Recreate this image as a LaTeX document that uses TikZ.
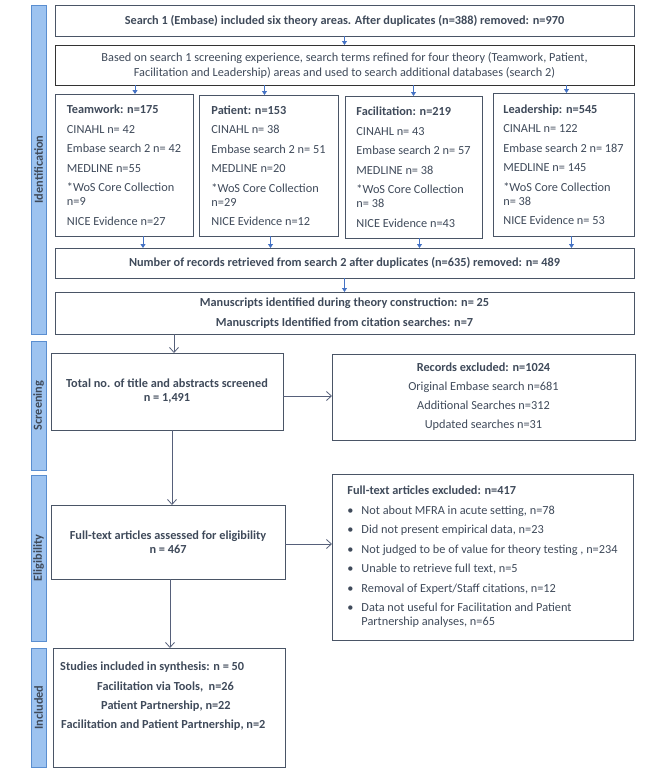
\documentclass[tikz,border=0pt]{standalone}
\usepackage{fontspec}
\setmainfont{Carlito}
\usetikzlibrary{arrows.meta}

\definecolor{boxline}{HTML}{4A5566}
\definecolor{darkline}{HTML}{333333}
\definecolor{barfill}{HTML}{9DC3F0}
\definecolor{barline}{HTML}{5A8ED0}
\definecolor{arrowblue}{HTML}{4472C4}
\definecolor{textgray}{HTML}{3F4A5A}
\definecolor{linegray}{HTML}{56607A}

\newcommand{\boxfont}{\fontsize{12.3}{14}\selectfont}

\tikzset{
  stage box/.style={rectangle,draw=boxline,line width=0.8pt,inner sep=0,outer sep=0,
    font=\boxfont,text=textgray,align=center},
  side bar/.style={rectangle,draw=barline,fill=barfill,line width=0.8pt,rotate=90,
    minimum height=15pt,inner sep=0,font=\boxfont\bfseries,text=textgray},
  blue arrow/.style={draw=arrowblue,line width=0.8pt,-{Triangle[width=5pt,length=4pt]}},
  gray arrow/.style={draw=linegray,line width=0.8pt,-{Straight Barb[width=9pt,length=5pt]}}
}

\begin{document}
\begin{tikzpicture}[x=1pt,y=-1pt]
  \useasboundingbox (0,0) rectangle (669,769);
  % phase bars
  \node[side bar,minimum width=329pt] (identbar) at (38.5,169.5) {Identification};
  \node[side bar,minimum width=129pt] (screenbar) at (38.5,405.5) {Screening};
  \node[side bar,minimum width=166pt] (eligbar) at (38.5,558) {Eligibility};
  \node[side bar,minimum width=119pt] (inclbar) at (38.5,707.5) {Included};

  % identification
  \node[stage box,minimum width=579pt,minimum height=31pt] (search1) at (344.5,20.5)
    {\textbf{Search 1 (Embase) included six theory areas. After duplicates (n=388) removed: n=970}};
  \node[stage box,draw=darkline,minimum width=579pt,minimum height=40pt] (refine) at (344.5,65)
    {Based on search 1 screening experience, search terms refined for four theory (Teamwork, Patient,\\[1pt]
     Facilitation and Leadership) areas and used to search additional databases (search 2)};
  \node[stage box,align=left,minimum width=138pt,minimum height=142pt] (team) at (124,165)
    {\textbf{Teamwork: n=175}\\[5.5pt] CINAHL n= 42\\[5.5pt] Embase search 2 n= 42\\[5.5pt] MEDLINE n=55\\[5.5pt]
     *WoS Core Collection\\ n=9\\[5.5pt] NICE Evidence n=27};
  \node[stage box,align=left,minimum width=139pt,minimum height=141pt] (patient) at (268.5,165.5)
    {\textbf{Patient: n=153}\\[5.5pt] CINAHL n= 38\\[5.5pt] Embase search 2 n= 51\\[5.5pt] MEDLINE n=20\\[5.5pt]
     *WoS Core Collection\\ n=29\\[5.5pt] NICE Evidence n=12};
  \node[stage box,align=left,minimum width=137pt,minimum height=142pt] (facil) at (413.5,167)
    {\textbf{Facilitation: n=219}\\[5.5pt] CINAHL n= 43\\[5.5pt] Embase search 2 n= 57\\[5.5pt] MEDLINE n= 38\\[5.5pt]
     *WoS Core Collection\\ n= 38\\[5.5pt] NICE Evidence n=43};
  \node[stage box,align=left,minimum width=141pt,minimum height=143pt] (lead) at (563.5,164.5)
    {\textbf{Leadership: n=545}\\[5.5pt] CINAHL n= 122\\[5.5pt] Embase search 2 n= 187\\[5.5pt] MEDLINE n= 145\\[5.5pt]
     *WoS Core Collection\\ n= 38\\[5.5pt] NICE Evidence n= 53};
  \node[stage box,minimum width=579pt,minimum height=30pt] (records) at (344.5,263)
    {\textbf{Number of records retrieved from search 2 after duplicates (n=635) removed: n= 489}};
  \node[stage box,minimum width=579pt,minimum height=42pt] (manus) at (344.5,313)
    {\textbf{Manuscripts identified during theory construction: n= 25}\\[6pt]
     \textbf{Manuscripts Identified from citation searches: n=7}};

  \draw[blue arrow] (search1) -- (refine);
  \foreach \b/\dt/\db in {team/11/19,patient/-4/2,facil/0/6,lead/3/8} {
    \draw[blue arrow] ([xshift=\dt pt]\b.north |- refine.south) -- ([xshift=\dt pt]\b.north);
    \draw[blue arrow] ([xshift=\db pt]\b.south) -- ([xshift=\db pt]\b.south |- records.north);
  }
  \draw[blue arrow] (records) -- (manus);

  % screening
  \node[stage box,minimum width=232pt,minimum height=77pt] (screen) at (167,391.5)
    {\textbf{Total no. of title and abstracts screened}\\ \textbf{n = 1,491}};
  \node[stage box,minimum width=303pt,minimum height=86pt] (excl) at (483.5,397)
    {\textbf{Records excluded: n=1024}\\[5pt] Original Embase search n=681\\[5pt]
     Additional Searches n=312\\[5pt] Updated searches n=31};
  \draw[gray arrow] ([xshift=7pt]screen.north |- manus.south) -- ([xshift=7pt]screen.north);
  \draw[gray arrow] ([yshift=-4.5pt]screen.east) -- ([yshift=-4.5pt]screen.east -| excl.west);

  % eligibility
  \node[stage box,minimum width=234pt,minimum height=74pt] (elig) at (168,542)
    {\textbf{Full-text articles assessed for eligibility}\\ \textbf{n = 467}};
  \node[stage box,align=left,minimum width=301pt,minimum height=166pt] (ftexcl) at (482.5,557)
    {\textbf{Full-text articles excluded: n=417}\\[5.5pt]
     \makebox[14pt][l]{\textbullet}Not about MFRA in acute setting, n=78\\[5.5pt]
     \makebox[14pt][l]{\textbullet}Did not present empirical data, n=23\\[5.5pt]
     \makebox[14pt][l]{\textbullet}Not judged to be of value for theory testing , n=234\\[5.5pt]
     \makebox[14pt][l]{\textbullet}Unable to retrieve full text, n=5\\[5.5pt]
     \makebox[14pt][l]{\textbullet}Removal of Expert/Staff citations, n=12\\[5.5pt]
     \makebox[14pt][l]{\textbullet}Data not useful for Facilitation and Patient\\
     \hspace*{14pt}Partnership analyses, n=65};
  \draw[gray arrow] ([xshift=5pt]screen.south) -- ([xshift=5pt]screen.south |- elig.north);
  \draw[gray arrow] ([yshift=-2pt]elig.east) -- ([yshift=-2pt]elig.east -| ftexcl.west);

  % included
  \node[stage box,minimum width=232pt,minimum height=119pt] (incl) at (169,707.5) {};
  \node[font=\boxfont,text=textgray,align=left,anchor=north west,inner sep=0] (incltxt) at (60,662)
    {\textbf{Studies included in synthesis: n = 50}\\[5.5pt]
     \hspace*{37pt}\textbf{Facilitation via Tools,\ \ n=26}\\[5.5pt]
     \hspace*{41pt}\textbf{Patient Partnership, n=22}\\[4.5pt]
     \hspace*{1pt}\textbf{Facilitation and Patient Partnership, n=2}};
  \draw[gray arrow] ([xshift=2pt]elig.south) -- ([xshift=2pt]elig.south |- incl.north);
\end{tikzpicture}
\end{document}
